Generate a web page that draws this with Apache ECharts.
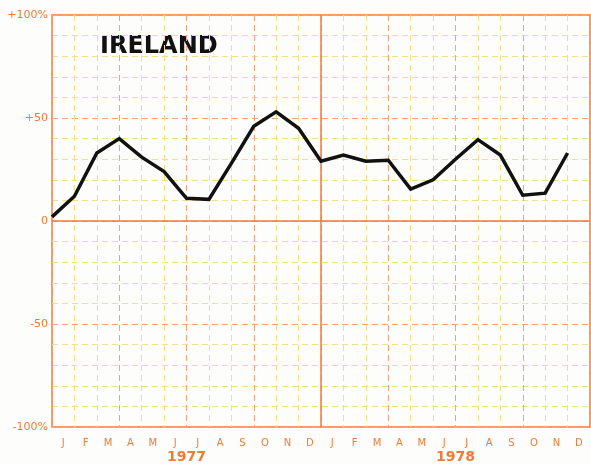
<!DOCTYPE html>
<html>
<head>
<meta charset="utf-8">
<script src="https://cdn.jsdelivr.net/npm/echarts@6/dist/echarts.min.js"></script>
<style>
  html, body { margin: 0; padding: 0; background: #fff; }
  #chart { width: 591px; height: 464px; }
</style>
</head>
<body>
<div id="chart"></div>
<script>
// monthly change, Jan 1977 .. Dec 1978 (%)
var months = ['J', 'F', 'M', 'A', 'M', 'J', 'J', 'A', 'S', 'O', 'N', 'D',
              'J', 'F', 'M', 'A', 'M', 'J', 'J', 'A', 'S', 'O', 'N', 'D'];
var years = ['1977', '1978'];
var change = [2, 12, 33, 40, 31, 24, 11, 10.5, 28, 46, 53, 45,
              29, 32, 29, 29.5, 15.5, 20, 30, 39.5, 32, 12.5, 13.5, 33];
var yLabels = { '100': '+100%', '50': '+50', '0': '0', '-50': '-50', '-100': '-100%' };

var orange = '#f07a38';
var major = '#f5a27a';
var minor = '#f2df8c';

var myChart = echarts.init(document.getElementById('chart'));

var lineData = [];
for (var i = 0; i < change.length; i++) {
    lineData.push([i, change[i]]);
}

var option = {
    backgroundColor: '#fdfdfb',
    animation: false,
    grid: {
        left: 52, right: 1, top: 15, bottom: 32,
        show: true,
        borderColor: orange,
        borderWidth: 1.5
    },
    xAxis: [{
        type: 'value',
        min: 0,
        max: 24,
        interval: 1,
        axisLine: { show: false },
        axisTick: { show: false },
        axisLabel: { show: false },
        splitLine: {
            show: true,
            lineStyle: { color: [major, minor, minor], type: [6, 4], width: 1 }
        }
    }, {
        type: 'category',
        data: months,
        boundaryGap: true,
        position: 'bottom',
        axisLine: { show: false },
        axisTick: { show: false },
        axisLabel: {
            interval: 0,
            margin: 11,
            color: orange,
            fontSize: 10,
            fontFamily: 'DejaVu Sans'
        },
        splitLine: { show: false }
    }, {
        type: 'category',
        data: years,
        boundaryGap: true,
        position: 'bottom',
        offset: 15,
        axisLine: { show: false },
        axisTick: { show: false },
        axisLabel: {
            interval: 0,
            margin: 8,
            color: orange,
            fontSize: 14,
            fontWeight: 'bold',
            fontFamily: 'DejaVu Sans'
        },
        splitLine: { show: false }
    }],
    yAxis: {
        type: 'value',
        min: -100,
        max: 100,
        interval: 10,
        axisLine: { show: false },
        axisTick: { show: false },
        axisLabel: {
            color: orange,
            fontSize: 11,
            margin: 4,
            fontFamily: 'DejaVu Sans',
            formatter: function (v) {
                return yLabels[String(v)] || '';
            }
        },
        splitLine: {
            show: true,
            lineStyle: { color: [major, minor, minor, minor, minor], type: [6, 4], width: 1 }
        }
    },
    graphic: [{
        type: 'text',
        left: 100,
        top: 35,
        style: {
            text: 'IRELAND',
            fill: '#111',
            font: 'bold 24px "DejaVu Sans"'
        }
    }],
    series: [{
        type: 'line',
        xAxisIndex: 0,
        data: lineData,
        showSymbol: false,
        lineStyle: { color: '#111', width: 3.5, join: 'miter' },
        z: 10,
        markLine: {
            silent: true,
            symbol: 'none',
            label: { show: false },
            lineStyle: { color: orange, type: 'solid', width: 1.5, opacity: 1 },
            data: [
                { yAxis: 0, lineStyle: { color: orange, type: 'solid', width: 1.5 } },
                { xAxis: 12, lineStyle: { color: orange, type: 'solid', width: 1.5 } }
            ]
        }
    }]
};

myChart.setOption(option);
</script>
</body>
</html>
